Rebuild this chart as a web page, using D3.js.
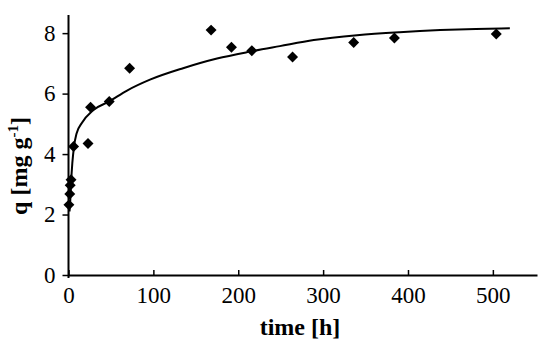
<!DOCTYPE html>
<html lang="en">
  <head>
    <meta charset="UTF-8" />
    <script src="https://d3js.org/d3.v7.min.js"></script>
    <title>q vs time</title>
    <style>
      body { margin: 0; background: #fff; }
      text { font-family: "Liberation Serif", "Times New Roman", serif; fill: #000; }
    </style>
  </head>
  <body>
    <div id="chart"></div>
    <script>
    // measured points
    var timeObs = [0.5, 1.5, 2, 3, 6, 23, 26, 48, 72, 168, 192, 216, 264, 336, 384, 504];
    var qObs = [2.32, 2.68, 2.97, 3.15, 4.25, 4.35, 5.55, 5.74, 6.84, 8.1, 7.53, 7.42, 7.21, 7.69, 7.84, 7.97];

    // fitted curve
    var fitTime = [1.2, 1.8, 3, 4.5, 6.5, 9.6, 15.5, 29, 48, 69, 96, 135, 175, 214, 249, 289, 340, 390, 438, 480, 520];
    var fitQ = [2.1, 2.32, 3.04, 3.7, 4.25, 4.69, 5.02, 5.45, 5.74, 6.1, 6.46, 6.84, 7.16, 7.39, 7.57, 7.77, 7.93, 8.03, 8.1, 8.14, 8.16];

    var xTicks = [0, 100, 200, 300, 400, 500];
    var yTicks = [0, 2, 4, 6, 8];

    var W = 550, H = 345;
    var svg = d3.select("#chart").append("svg")
        .attr("width", W)
        .attr("height", H);

    var x = d3.scaleLinear().domain([0, 552]).range([68.5, 537]);
    var y = d3.scaleLinear().domain([0, 8.6]).range([275, 15]);

    // x axis, ticks pointing up
    var xAxis = svg.append("g")
        .attr("transform", "translate(0,275)")
        .call(d3.axisBottom(x).tickValues(xTicks).tickSize(-5).tickSizeOuter(0).tickPadding(12));
    xAxis.select(".domain").attr("stroke-width", 2);
    xAxis.selectAll(".tick line").attr("stroke-width", 1.5);
    xAxis.selectAll(".tick text")
        .attr("font-family", "Liberation Serif")
        .attr("font-size", 23)
        .attr("dy", "0.71em");

    // y axis
    var yAxis = svg.append("g")
        .attr("transform", "translate(68.5,0)")
        .call(d3.axisLeft(y).tickValues(yTicks).tickSize(6).tickSizeOuter(0).tickPadding(7));
    yAxis.select(".domain").attr("stroke-width", 2).attr("d", "M0,278V15");
    yAxis.selectAll(".tick line").attr("stroke-width", 1.5);
    yAxis.selectAll(".tick text")
        .attr("font-family", "Liberation Serif")
        .attr("font-size", 23);

    // fitted line
    var line = d3.line()
        .x(function(d) { return x(d[0]); })
        .y(function(d) { return y(d[1]); })
        .curve(d3.curveMonotoneX);
    svg.append("path")
        .datum(d3.zip(fitTime, fitQ))
        .attr("fill", "none")
        .attr("stroke", "#000")
        .attr("stroke-width", 2)
        .attr("d", line);

    // diamond markers
    var sym = d3.symbol().type(d3.symbolSquare).size(60);
    svg.selectAll(".pt")
        .data(d3.zip(timeObs, qObs))
        .enter()
        .append("path")
          .attr("class", "pt")
          .attr("d", sym)
          .attr("fill", "#000")
          .attr("transform", function(d) { return "translate(" + x(d[0]) + "," + y(d[1]) + ") rotate(45)"; });

    // axis titles
    svg.append("text")
        .attr("x", 300)
        .attr("y", 335)
        .attr("text-anchor", "middle")
        .attr("font-size", 24)
        .attr("font-weight", "bold")
        .text("time [h]");

    var yl = svg.append("text")
        .attr("transform", "translate(27,166) rotate(-90)")
        .attr("text-anchor", "middle")
        .attr("font-size", 24)
        .attr("font-weight", "bold");
    yl.append("tspan").text("q [mg g");
    yl.append("tspan").attr("font-size", 15).attr("dy", -9).text("-1");
    yl.append("tspan").attr("dy", 9).text("]");
    </script>
  </body>
</html>
